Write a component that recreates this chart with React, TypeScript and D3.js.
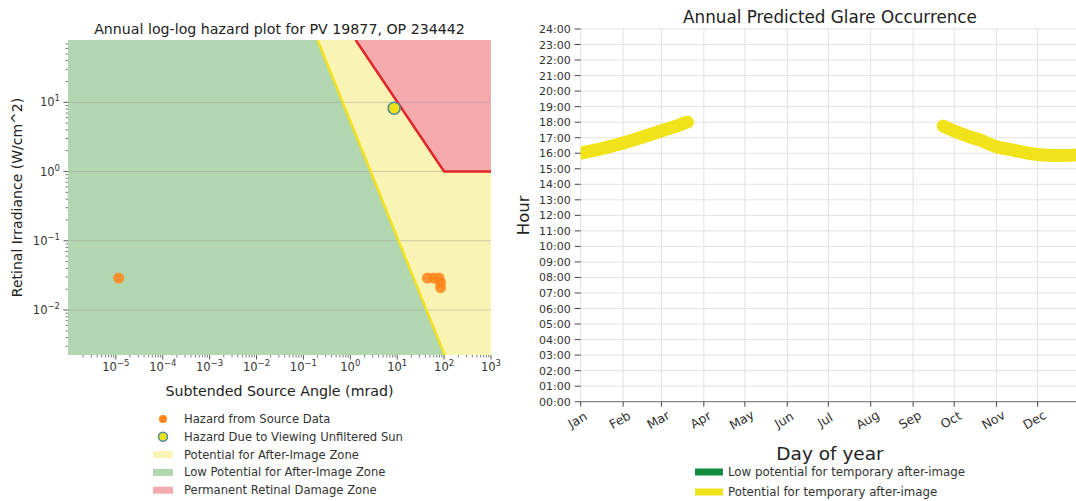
import React from "react";
import * as d3 from "d3";

// ---- left: log-log hazard plot ----
const afterImageAngle = [0.2, 104];
const afterImageIrr = [79.4, 0.0022];
const damageAngle = [1.3, 100, 1000];
const damageIrr = [79.4, 1, 1];
const sourceAngle = [1.15e-5, 44, 60, 78, 84, 84];
const sourceIrr = [0.029, 0.029, 0.029, 0.029, 0.025, 0.021];
const sunAngle = [8.6];
const sunIrr = [8.2];
const xTickExp = [-5, -4, -3, -2, -1, 0, 1, 2, 3];
const yTickExp = [-2, -1, 0, 1];
const leftLegend = [
  "Hazard from Source Data",
  "Hazard Due to Viewing Unfiltered Sun",
  "Potential for After-Image Zone",
  "Low Potential for After-Image Zone",
  "Permanent Retinal Damage Zone",
];

// ---- right: glare occurrence ----
const springDays = [1, 8, 16, 24, 32, 40, 48, 56, 64, 72, 79];
const springHours = [16.0, 16.13, 16.29, 16.47, 16.66, 16.87, 17.09, 17.32, 17.55, 17.78, 18.0];
const autumnDays = [266, 275, 285, 293, 305, 317, 330, 342, 355, 366];
const autumnHours = [17.75, 17.4, 17.07, 16.84, 16.42, 16.2, 15.98, 15.87, 15.85, 15.9];
const monthNames = ["Jan", "Feb", "Mar", "Apr", "May", "Jun", "Jul", "Aug", "Sep", "Oct", "Nov", "Dec"];
const monthStartDay = [1, 32, 60, 91, 121, 152, 182, 213, 244, 274, 305, 335];
const rightLegend = ["Low potential for temporary after-image", "Potential for temporary after-image"];

const FONT = "DejaVu Sans, sans-serif";
const GREEN_ZONE = "#b2d7b0";
const YELLOW_ZONE = "#faf4b4";
const RED_ZONE = "#f5aaad";

const minus = (n: number) => (n < 0 ? "\u2212" + Math.abs(n) : String(n));

const HazardPlot = () => {
  const L = 68, R = 491, T = 40, B = 355;
  const x = d3.scaleLog().domain([Math.pow(10, -6.02), 1000]).range([L, R]);
  const y = d3.scaleLog().domain([Math.pow(10, -2.65), Math.pow(10, 1.9)]).range([B, T]);
  const [x0, x1] = x.domain();
  const [y0, y1] = y.domain();

  const line = d3.line<[number, number]>().x((d) => x(d[0])).y((d) => y(d[1]));
  const aiPts: [number, number][] = afterImageAngle.map((a, i) => [a, afterImageIrr[i]]);
  const dmPts: [number, number][] = damageAngle.map((a, i) => [a, damageIrr[i]]);
  const yellowPoly = line([...aiPts, [x1, y0], [x1, y1]] as [number, number][]) + "Z";
  const redPoly = line([...dmPts, [x1, y1]] as [number, number][]) + "Z";

  const xMinor: number[] = [];
  for (let e = -7; e < 3; e++)
    for (let m = 2; m < 10; m++) {
      const v = m * Math.pow(10, e);
      if (v >= x0 && v <= x1) xMinor.push(v);
    }
  const yMinor: number[] = [];
  for (let e = -3; e < 2; e++)
    for (let m = 2; m < 10; m++) {
      const v = m * Math.pow(10, e);
      if (v >= y0 && v <= y1) yMinor.push(v);
    }

  return (
    <g fontFamily={FONT}>
      <defs>
        <clipPath id="hz-clip">
          <rect x={L} y={T} width={R - L} height={B - T} />
        </clipPath>
      </defs>
      <text x={(L + R) / 2 + 0} y={34} textAnchor="middle" fontSize={14.2} fill="#222">
        Annual log-log hazard plot for PV 19877, OP 234442
      </text>
      <g clipPath="url(#hz-clip)">
        <rect x={L} y={T} width={R - L} height={B - T} fill={GREEN_ZONE} />
        <path d={yellowPoly} fill={YELLOW_ZONE} />
        <path d={redPoly} fill={RED_ZONE} />
        {yTickExp.map((e) => (
          <line key={e} x1={L} x2={R} y1={y(Math.pow(10, e))} y2={y(Math.pow(10, e))} stroke="#9a9a9a" strokeOpacity={0.45} />
        ))}
        <path d={line(aiPts) || ""} fill="none" stroke="#f3e21c" strokeWidth={2.5} />
        <path d={line(dmPts) || ""} fill="none" stroke="#e0262a" strokeWidth={2.5} />
        {sourceAngle.map((a, i) => (
          <circle key={i} cx={x(a)} cy={y(sourceIrr[i])} r={5.5} fill="#ff8418" fillOpacity={0.85} />
        ))}
        {sunAngle.map((a, i) => (
          <circle key={i} cx={x(a)} cy={y(sunIrr[i])} r={6} fill="#ede21a" stroke="#4e8c9e" strokeWidth={1.6} />
        ))}
      </g>
      {/* x axis ticks */}
      {xMinor.map((v, i) => (
        <line key={i} x1={x(v)} x2={x(v)} y1={B} y2={B + 2.5} stroke="#444" strokeWidth={0.7} />
      ))}
      {xTickExp.map((e) => (
        <g key={e} transform={`translate(${x(Math.pow(10, e))},${B})`}>
          <line y1={0} y2={4.5} stroke="#444" strokeWidth={0.9} />
          <text y={16} textAnchor="middle" fontSize={11.5} fill="#333">
            10<tspan dy={-5} fontSize={8.5}>{minus(e)}</tspan>
          </text>
        </g>
      ))}
      {/* y axis ticks */}
      {yMinor.map((v, i) => (
        <line key={i} x1={L - 2.5} x2={L} y1={y(v)} y2={y(v)} stroke="#444" strokeWidth={0.7} />
      ))}
      {yTickExp.map((e) => (
        <g key={e} transform={`translate(${L},${y(Math.pow(10, e))})`}>
          <line x1={-4.5} x2={0} stroke="#444" strokeWidth={0.9} />
          <text x={-8} y={4} textAnchor="end" fontSize={11.5} fill="#333">
            10<tspan dy={-5} fontSize={8.5}>{minus(e)}</tspan>
          </text>
        </g>
      ))}
      <text x={(L + R) / 2 + 0} y={396} textAnchor="middle" fontSize={14.2} fill="#222">
        Subtended Source Angle (mrad)
      </text>
      <text transform={`translate(22,${(T + B) / 2}) rotate(-90)`} textAnchor="middle" fontSize={14} fill="#222">
        Retinal Irradiance (W/cm^2)
      </text>
      {/* legend */}
      {leftLegend.map((label, i) => {
        const cy = 419 + i * 17.8;
        return (
          <g key={label}>
            {i === 0 && <circle cx={163} cy={cy} r={4} fill="#ff8418" />}
            {i === 1 && <circle cx={163} cy={cy} r={4.5} fill="#ede21a" stroke="#4e8c9e" strokeWidth={1.5} />}
            {i >= 2 && (
              <rect x={153} y={cy - 3.5} width={20} height={7} fill={[YELLOW_ZONE, GREEN_ZONE, RED_ZONE][i - 2]} />
            )}
            <text x={184} y={cy + 4} fontSize={11.6} fill="#333">
              {label}
            </text>
          </g>
        );
      })}
    </g>
  );
};

const GlarePlot = () => {
  const L = 580.7, T = 29, B = 401.7;
  const x = d3.scaleLinear().domain([1, 366]).range([L, L + 365 * 1.368]);
  const y = d3.scaleLinear().domain([0, 24]).range([B, T]);
  const R = 1076;
  const hours = d3.range(0, 25);
  const curve = d3
    .line<[number, number]>()
    .x((d) => x(d[0]))
    .y((d) => y(d[1]))
    .curve(d3.curveMonotoneX);
  const spring = curve(springDays.map((d, i) => [d, springHours[i]] as [number, number])) || "";
  const autumn = curve(autumnDays.map((d, i) => [d, autumnHours[i]] as [number, number])) || "";

  return (
    <g fontFamily={FONT}>
      <defs>
        <clipPath id="gl-clip">
          <rect x={L} y={T - 10} width={R - L} height={B - T + 10} />
        </clipPath>
      </defs>
      <text x={830} y={23} textAnchor="middle" fontSize={16.8} fill="#222">
        Annual Predicted Glare Occurrence
      </text>
      {hours.map((h) => (
        <line key={h} x1={L} x2={R} y1={y(h)} y2={y(h)} stroke="#e2e2e2" strokeWidth={1} />
      ))}
      {monthStartDay.map((d) => (
        <line key={d} x1={x(d)} x2={x(d)} y1={T} y2={B} stroke="#e2e2e2" strokeWidth={1} />
      ))}
      <g clipPath="url(#gl-clip)">
        <path d={spring} fill="none" stroke="#f1e31a" strokeWidth={13} strokeLinecap="round" />
        <path d={autumn} fill="none" stroke="#f1e31a" strokeWidth={13} strokeLinecap="round" />
      </g>
      <line x1={L} x2={R} y1={B} y2={B} stroke="#8a8a8a" strokeWidth={1.2} />
      {hours.map((h) => (
        <g key={h} transform={`translate(${L},${y(h)})`}>
          <line x1={-6} x2={0} stroke="#444" strokeWidth={1} />
          <text x={-10} y={4} textAnchor="end" fontSize={11} fill="#333">
            {String(h).padStart(2, "0") + ":00"}
          </text>
        </g>
      ))}
      {monthStartDay.map((d, i) => (
        <g key={d} transform={`translate(${x(d)},${B})`}>
          <line y1={0} y2={5} stroke="#444" strokeWidth={1} />
          <text transform="translate(-1,22) rotate(-30)" textAnchor="middle" fontSize={12.5} fill="#333">
            {monthNames[i]}
          </text>
        </g>
      ))}
      <text x={830} y={460} textAnchor="middle" fontSize={18.5} fill="#222">
        Day of year
      </text>
      <text transform={`translate(529,${(T + B) / 2}) rotate(-90)`} textAnchor="middle" fontSize={16.5} fill="#222">
        Hour
      </text>
      {rightLegend.map((label, i) => {
        const cy = 472 + i * 20;
        return (
          <g key={label}>
            <rect x={695} y={cy - 3.5} width={28} height={7} fill={i === 0 ? "#138a3c" : "#f1e31a"} />
            <text x={728} y={cy + 4} fontSize={11.8} fill="#333">
              {label}
            </text>
          </g>
        );
      })}
    </g>
  );
};

export default function App() {
  return (
    <svg
      width={1076}
      height={501}
      style={{ position: "absolute", left: 0, top: 0, background: "#fff" }}
    >
      <rect width={1076} height={501} fill="#fff" />
      <HazardPlot />
      <GlarePlot />
    </svg>
  );
}
